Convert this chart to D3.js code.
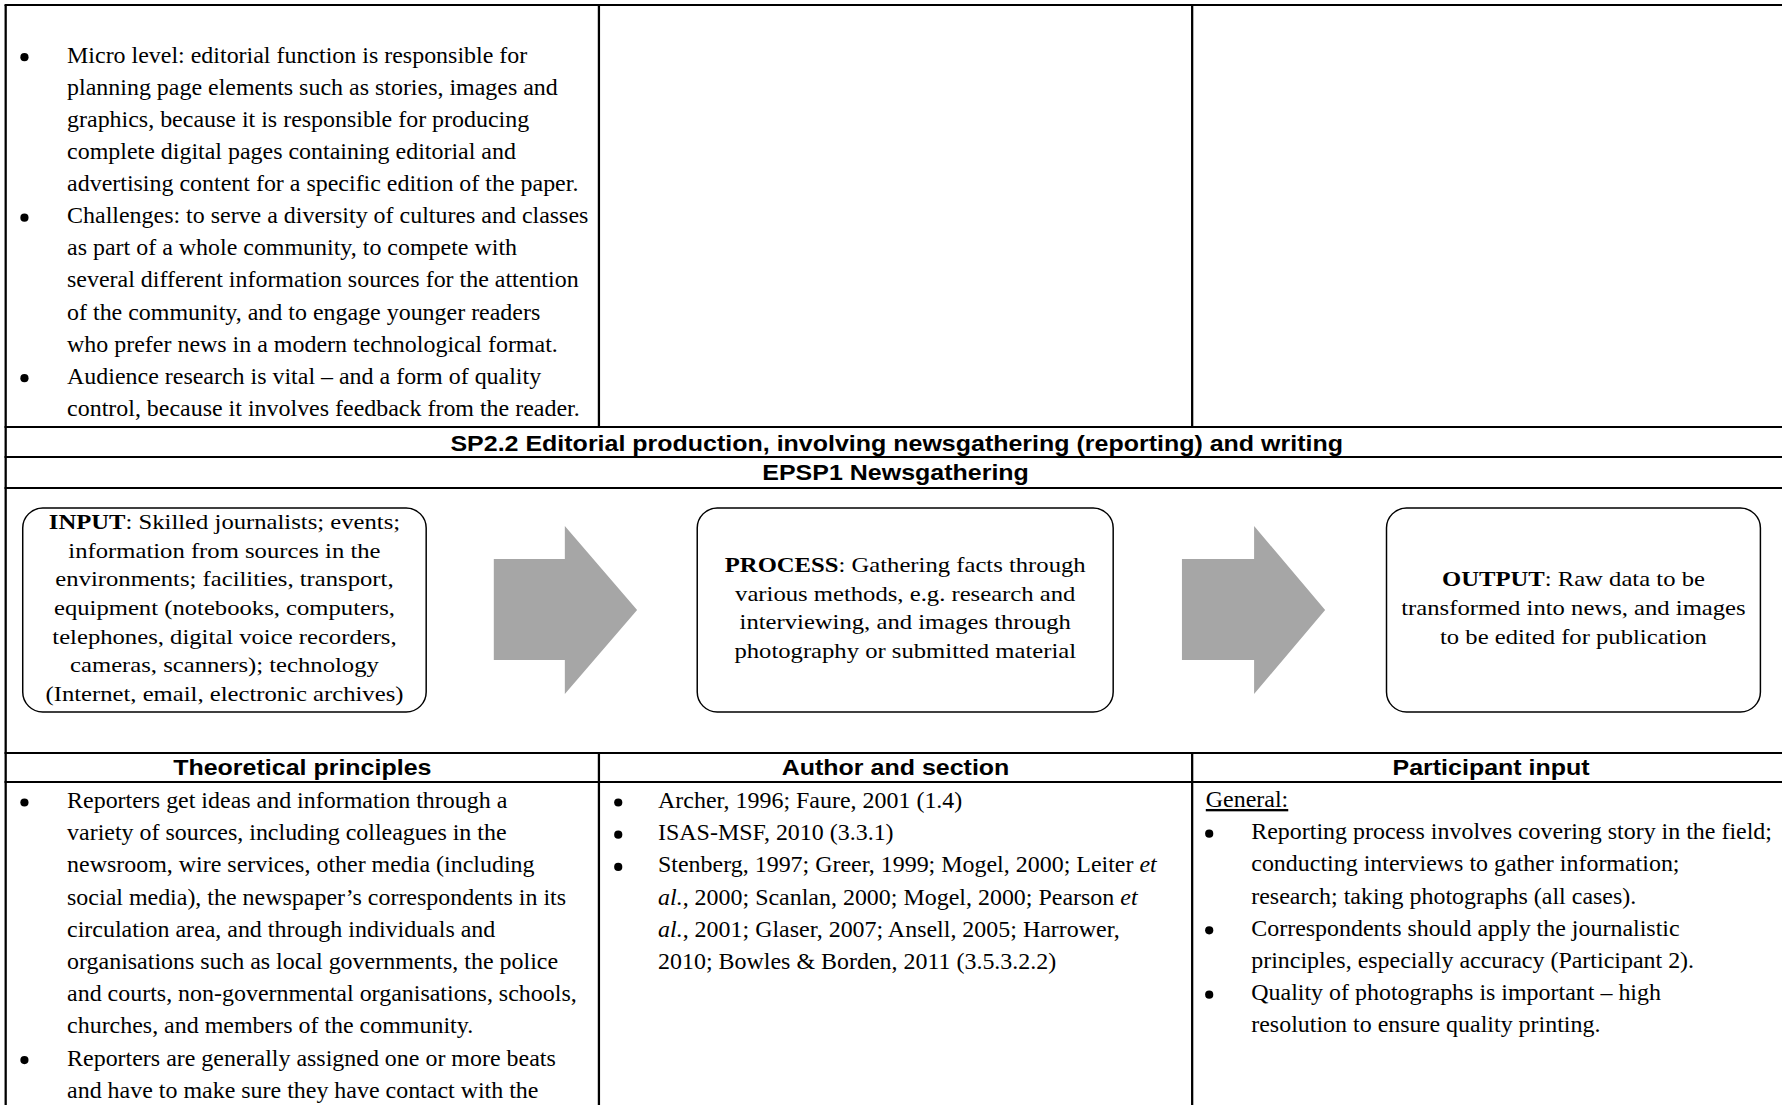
<!DOCTYPE html>
<html><head><meta charset="utf-8">
<script src="https://cdn.jsdelivr.net/npm/d3@7"></script>
<style>html,body{margin:0;padding:0;background:#fff;overflow:hidden}</style>
</head><body><svg id="c"></svg>
<script>
// ---------- DATA ----------
const sectionTitle = "SP2.2 Editorial production, involving newsgathering (reporting) and writing";
const subTitle = "EPSP1 Newsgathering";
const columnHeaders = ["Theoretical principles", "Author and section", "Participant input"];

const topBullets = [
  ["Micro level: editorial function is responsible for",
   "planning page elements such as stories, images and",
   "graphics, because it is responsible for producing",
   "complete digital pages containing editorial and",
   "advertising content for a specific edition of the paper."],
  ["Challenges: to serve a diversity of cultures and classes",
   "as part of a whole community, to compete with",
   "several different information sources for the attention",
   "of the community, and to engage younger readers",
   "who prefer news in a modern technological format."],
  ["Audience research is vital \u2013 and a form of quality",
   "control, because it involves feedback from the reader."]
];

const flowLabels = ["INPUT", "PROCESS", "OUTPUT"];
const flowTexts = [
  ["<b>INPUT</b>: Skilled journalists; events;",
   "information from sources in the",
   "environments; facilities, transport,",
   "equipment (notebooks, computers,",
   "telephones, digital voice recorders,",
   "cameras, scanners); technology",
   "(Internet, email, electronic archives)"],
  ["<b>PROCESS</b>: Gathering facts through",
   "various methods, e.g. research and",
   "interviewing, and images through",
   "photography or submitted material"],
  ["<b>OUTPUT</b>: Raw data to be",
   "transformed into news, and images",
   "to be edited for publication"]
];

const theoryBullets = [
  ["Reporters get ideas and information through a",
   "variety of sources, including colleagues in the",
   "newsroom, wire services, other media (including",
   "social media), the newspaper\u2019s correspondents in its",
   "circulation area, and through individuals and",
   "organisations such as local governments, the police",
   "and courts, non-governmental organisations, schools,",
   "churches, and members of the community."],
  ["Reporters are generally assigned one or more beats",
   "and have to make sure they have contact with the"]
];

const authorBullets = [
  ["Archer, 1996; Faure, 2001 (1.4)"],
  ["ISAS-MSF, 2010 (3.3.1)"],
  ["Stenberg, 1997; Greer, 1999; Mogel, 2000; Leiter <i>et</i>",
   "<i>al.</i>, 2000; Scanlan, 2000; Mogel, 2000; Pearson <i>et</i>",
   "<i>al.</i>, 2001; Glaser, 2007; Ansell, 2005; Harrower,",
   "2010; Bowles &amp; Borden, 2011 (3.5.3.2.2)"]
];

const participantIntro = "General:";
const participantBullets = [
  ["Reporting process involves covering story in the field;",
   "conducting interviews to gather information;",
   "research; taking photographs (all cases)."],
  ["Correspondents should apply the journalistic",
   "principles, especially accuracy (Participant 2)."],
  ["Quality of photographs is important \u2013 high",
   "resolution to ensure quality printing."]
];

// ---------- LAYOUT ----------
const VBW = 1568, H = 1105, PW = 1782;
const serif = "'Liberation Serif', 'Times New Roman', serif";
const sans = "'Liberation Sans', Arial, sans-serif";
const tableFont = 23.5, tableK = 0.897;
const boxFont = 21.7, boxK = 1.0;
const headFont = 22;

const svg = d3.select("#c")
  .attr("width", PW).attr("height", H)
  .attr("viewBox", `0 0 ${VBW} ${H}`)
  .attr("preserveAspectRatio", "none");

svg.append("rect").attr("width", VBW).attr("height", H).attr("fill", "#fff");

const colX = d3.scaleOrdinal().domain([0, 1, 2]).range([5, 527, 1049]);
const tableRight = 1575;
const rowY = d3.scaleOrdinal()
  .domain(["top", "topEnd", "title", "sub", "flowEnd", "head"])
  .range([5, 427, 457, 488, 753, 782]);

function rich(sel, str) {
  str = str.replace(/&amp;/g, "&");
  str.split(/(<[bi]>.*?<\/[bi]>)/).filter(s => s.length).forEach(p => {
    const m = p.match(/^<([bi])>(.*)<\/[bi]>$/);
    const t = sel.append("tspan").text(m ? m[2] : p);
    if (m && m[1] === "b") t.attr("font-weight", "bold");
    if (m && m[1] === "i") t.attr("font-style", "italic");
  });
}

function txt(g, x, y, str, opt) {
  const t = g.append("text")
    .attr("transform", `translate(${x},${y}) scale(${opt.k || 1},1)`)
    .attr("font-family", opt.family || serif)
    .attr("font-size", opt.size)
    .attr("font-weight", opt.weight || "normal")
    .attr("text-anchor", opt.anchor || "start")
    .attr("fill", "#000");
  if (opt.deco) t.attr("text-decoration", opt.deco);
  rich(t, str);
  return t;
}

function bulletList(g, bullets, bx, tx, yScale, startIdx) {
  let i = startIdx || 0;
  bullets.forEach(lines => {
    g.append("ellipse").attr("cx", bx).attr("cy", yScale(i) - 5.5)
      .attr("rx", 3.6).attr("ry", 4.1).attr("fill", "#000");
    lines.forEach(l => { txt(g, tx, yScale(i), l, {size: tableFont, k: tableK}); i++; });
  });
}

const g = svg.append("g");

// ---------- TOP SECTION ----------
const topY = d3.scaleLinear().domain([0, 1]).range([62.7, 94.8]);
bulletList(g, topBullets, colX(0) + 16.5, colX(0) + 54, topY, 0);

// ---------- TITLES ----------
const midX = (colX(0) + tableRight) / 2;
txt(g, midX - 1, 451, sectionTitle, {family: sans, size: headFont, weight: "bold", anchor: "middle"});
txt(g, midX - 2, 480, subTitle, {family: sans, size: headFont, weight: "bold", anchor: "middle"});

// ---------- FLOW DIAGRAM ----------
const boxX = d3.scaleOrdinal().domain(flowLabels).range([[20, 375], [613.5, 979.5], [1220, 1549]]);
const boxTop = 508, boxBot = 712, boxMid = 610, boxStep = 28.7;
flowLabels.forEach((lab, j) => {
  const [x0, x1] = boxX(lab);
  g.append("rect").attr("x", x0).attr("y", boxTop).attr("width", x1 - x0).attr("height", boxBot - boxTop)
    .attr("rx", 17.6).attr("ry", 20).attr("fill", "#fff").attr("stroke", "#000").attr("stroke-width", 1.3);
  const lines = flowTexts[j];
  const y0 = boxMid + 5 - (lines.length - 1) / 2 * boxStep;
  const ly = d3.scaleLinear().domain([0, 1]).range([y0, y0 + boxStep]);
  lines.forEach((l, i) => txt(g, (x0 + x1) / 2, ly(i), l, {size: boxFont, k: boxK, anchor: "middle"}));
});

// arrows between boxes
const arrows = [[434.5, 497, 560.6], [1040, 1103.5, 1166]];
const shaftT = 559, shaftB = 660, headT = 526, headB = 694, tipY = 610;
const line = d3.line();
arrows.forEach(([a, b, c]) => {
  g.append("path").attr("d", line([[a, shaftT], [b, shaftT], [b, headT], [c, tipY], [b, headB], [b, shaftB], [a, shaftB]]) + "Z")
    .attr("fill", "#a6a6a6");
});

// ---------- COLUMN HEADERS ----------
columnHeaders.forEach((h, i) => {
  const x0 = colX(i), x1 = i < 2 ? colX(i + 1) : tableRight;
  txt(g, (x0 + x1) / 2, 775, h, {family: sans, size: headFont, weight: "bold", anchor: "middle"});
});

// ---------- LOWER SECTION ----------
const lowY = d3.scaleLinear().domain([0, 1]).range([808, 840.2]);
bulletList(g, theoryBullets, colX(0) + 16.5, colX(0) + 54, lowY, 0);
bulletList(g, authorBullets, colX(1) + 17, colX(1) + 52, lowY, 0);
txt(g, colX(2) + 12, lowY(0) - 1, participantIntro, {size: tableFont, k: tableK, deco: "underline"});
const partY = d3.scaleLinear().domain([0, 1]).range([807, 839.2]);
bulletList(g, participantBullets, colX(2) + 15, colX(2) + 52, partY, 1);

// ---------- GRID LINES ----------
const grid = svg.append("g").attr("stroke", "#000").attr("stroke-width", 2).attr("fill", "none");
["top", "topEnd", "title", "sub", "flowEnd", "head"].forEach(k => {
  grid.append("line").attr("x1", colX(0) - 1).attr("x2", tableRight).attr("y1", rowY(k)).attr("y2", rowY(k));
});
grid.append("line").attr("x1", colX(0)).attr("x2", colX(0)).attr("y1", rowY("top")).attr("y2", H);
[1, 2].forEach(i => {
  grid.append("line").attr("x1", colX(i)).attr("x2", colX(i)).attr("y1", rowY("top")).attr("y2", rowY("topEnd"));
  grid.append("line").attr("x1", colX(i)).attr("x2", colX(i)).attr("y1", rowY("flowEnd")).attr("y2", H);
});
</script></body></html>
